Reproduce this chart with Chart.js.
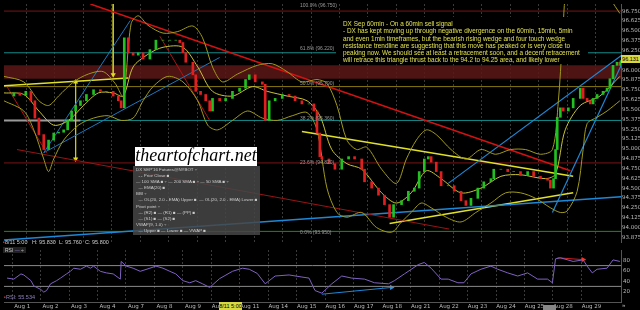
<!DOCTYPE html>
<html>
<head>
<meta charset="utf-8">
<script src="https://cdn.jsdelivr.net/npm/chart.js@4.4.1/dist/chart.umd.min.js"></script>
<style>
html, body { margin:0; padding:0; background:#000; width:640px; height:310px; overflow:hidden; }
#wrap { position:relative; width:640px; height:310px; font-family:"Liberation Sans", sans-serif; }
#main { position:absolute; left:0; top:0; }
#rsi { position:absolute; left:0; top:246px; }
.t { position:absolute; white-space:nowrap; }
.fib { position:absolute; white-space:nowrap; font-size:5px; color:#999; }
#note { position:absolute; left:336px; top:17px; width:252px; height:47px; background:#000; border-radius:6px;
  color:#e0e050; font-size:6.4px; line-height:7.3px; padding:3px 0 0 7px; box-sizing:border-box; white-space:nowrap; }
#wm { position:absolute; left:135px; top:147px; width:122px; height:19px; background:#fff;
  font-family:"Liberation Serif", serif; font-style:italic; font-size:18px; line-height:17px; color:#000; text-align:center; }
#leg { position:absolute; left:133px; top:166px; width:127px; height:69px; background:rgba(70,70,70,0.85);
  color:#ccc; font-size:4.4px; line-height:6.1px; padding:1px 0 0 3px; box-sizing:border-box; white-space:nowrap; overflow:hidden; }
</style>
</head>
<body>
<div id="wrap">
  <canvas id="main" width="640" height="246" style="width:640px;height:246px"></canvas>
  <canvas id="rsi" width="640" height="64" style="width:640px;height:64px"></canvas>

  <div class="fib" style="left:300px;top:2px">100.0% (96.750)</div>
  <div class="fib" style="left:300px;top:45px">61.8% (96.220)</div>
  <div class="fib" style="left:300px;top:80px">50.0% (95.790)</div>
  <div class="fib" style="left:300px;top:115px">38.2% (95.360)</div>
  <div class="fib" style="left:300px;top:159px">23.6% (94.820)</div>
  <div class="fib" style="left:300px;top:229px">0.0% (93.950)</div>

  <div id="note">DX Sep 60min - On a 60min sell signal<br>
- DX has kept moving up through negative divergence on the 60min, 15min, 5min<br>
and even 1min timeframes, but the bearish rising wedge and four touch wedge<br>
resistance trendline are suggesting that this move has peaked or is very close to<br>
peaking now. We should see at least a retracement soon, and a decent retracement<br>
will retrace this triangle thrust back to the 94.2 to 94.25 area, and likely lower</div>

  <div id="wm">theartofchart.net</div>

  <div id="leg">DX SEP'16 Futures@NYBOT ÷<br>
&nbsp;&nbsp;- - Prior Close ■<br>
— 100 SMA ■ ÷ — 200 SMA ■ ÷ — 50 SMA ■ ÷<br>
&nbsp;&nbsp;— EMA(20) ■<br>
BBI ÷<br>
&nbsp;&nbsp;— OL(20, 2.0 - EMA) Upper ■ &nbsp;— OL(20, 2.0 - EMA) Lower ■<br>
Pivot point ÷<br>
&nbsp;&nbsp;— (R2) ■ — (R1) ■ — (PP) ■<br>
&nbsp;&nbsp;— (S1) ■ — (S2) ■<br>
VWAP(9, 1.0) ÷<br>
&nbsp;&nbsp;— Upper ■ — Lower ■ — VWAP ■</div>

  <div class="t" style="left:3px;top:239px;font-size:5.5px;color:#ccc"><span style="color:#c03030">▪</span>8/11 5:00 &nbsp;&nbsp;H: 95.830 &nbsp;L: 95.760 &nbsp;C: 95.800</div>
  <div class="t" style="left:3px;top:247px;font-size:5px;color:#ccc;background:#222;padding:0 2px">RSI <span style="color:#8a70c8">—</span> ÷</div>
  <div class="t" style="left:4px;top:294px;font-size:5.5px;color:#9080c0"><span style="color:#c03030">▪</span>RSI: 55.534</div>
  <div class="t" style="left:621px;top:55px;width:19px;height:8px;background:#d8d840;color:#000;font-size:5.5px;line-height:8px;text-align:center">96.131</div>
  <div class="t" style="left:219px;top:302px;width:23px;height:8px;background:#d8d840;color:#000;font-size:5.5px;line-height:8px;text-align:center">8/11 5:00</div>
  <div class="t" style="left:543px;top:305px;width:13px;height:5px;background:#888"></div>
  <div class="t" style="left:622px;top:302px;font-size:6px;color:#bbb">»</div>
</div>

<script>
// day index 0 = Aug 1 ... 20 = Aug 29 (trading days)
const dayLabels = ['Aug 1','Aug 2','Aug 3','Aug 4','Aug 7','Aug 8','Aug 9','Aug 10','Aug 11','Aug 14',
  'Aug 15','Aug 16','Aug 17','Aug 18','Aug 21','Aug 22','Aug 23','Aug 24','Aug 25','Aug 28','Aug 29'];
const dayTicks = dayLabels.map((d, i) => i);
const priceTicks = [93.875, 94.0, 94.125, 94.25, 94.375, 94.5, 94.625, 94.75, 94.875, 95.0, 95.125, 95.25,
  95.375, 95.5, 95.625, 95.75, 95.875, 96.0, 96.125, 96.25, 96.375, 96.5, 96.625, 96.75];
const rsiTicks = [20, 40, 60, 80];

// [day, close]
const priceClose = [
  [-0.18,95.67],[0.06,95.71],[0.27,95.68],[0.48,95.73],[0.66,95.61],[0.80,95.39],[0.94,95.18],[1.11,94.99],
  [1.28,95.11],[1.46,95.20],[1.63,95.21],[1.81,95.24],[1.95,95.36],[2.09,95.48],[2.23,95.55],[2.40,95.61],
  [2.61,95.69],[2.86,95.75],[3.10,95.73],[3.31,95.73],[3.55,95.67],[3.73,95.61],[3.83,95.52],[3.94,96.41],
  [4.08,96.22],[4.25,96.19],[4.43,96.22],[4.60,96.14],[4.84,96.26],[5.05,96.38],[5.30,96.38],[5.54,96.38],
  [5.75,96.38],[5.89,96.35],[6.00,96.22],[6.10,96.10],[6.35,95.94],[6.45,95.73],[6.62,95.69],[6.80,95.61],
  [6.94,95.48],[7.04,95.64],[7.29,95.61],[7.50,95.64],[7.74,95.73],[7.99,95.77],[8.20,95.88],[8.33,95.94],
  [8.54,95.85],[8.79,95.82],[8.89,95.36],[9.03,95.61],[9.24,95.64],[9.49,95.69],[9.73,95.67],[9.94,95.61],
  [10.18,95.57],[10.43,95.57],[10.60,95.48],[10.71,95.20],[10.81,94.90],[10.88,94.87],[11.13,94.81],[11.34,94.74],
  [11.58,94.87],[11.82,94.90],[12.03,94.87],[12.28,94.74],[12.38,94.58],[12.63,94.50],[12.87,94.41],[13.08,94.29],
  [13.26,94.13],[13.40,94.29],[13.68,94.34],[13.92,94.46],[14.13,94.50],[14.30,94.71],[14.48,94.87],[14.62,94.90],
  [14.72,94.83],[14.90,94.71],[15.07,94.53],[15.32,94.53],[15.53,94.46],[15.77,94.34],[15.94,94.28],[16.12,94.37],
  [16.36,94.50],[16.57,94.58],[16.82,94.62],[16.92,94.74],[17.17,94.74],[17.41,94.71],[17.62,94.71],[17.86,94.66],
  [18.11,94.71],[18.32,94.65],[18.56,94.62],[18.81,94.60],[18.91,94.50],[19.02,94.62],[19.09,94.99],[19.15,95.40],
  [19.26,95.52],[19.36,95.48],[19.54,95.52],[19.71,95.64],[19.96,95.77],[20.06,95.64],[20.20,95.61],[20.31,95.57],
  [20.41,95.64],[20.55,95.69],[20.76,95.73],[20.90,95.77],[21.00,95.89],[21.11,96.06],[21.25,96.10],[21.35,96.06],
  [21.39,96.12]
];

const bbUpper = [
  [-0.29,95.92],[0.41,95.85],[0.94,95.61],[1.28,95.55],[1.63,95.67],[2.16,95.85],[2.68,95.95],[3.20,95.98],
  [3.62,95.83],[3.90,95.67],[4.18,96.59],[4.43,96.69],[4.77,96.57],[5.30,96.47],[5.82,96.49],[6.35,96.56],
  [6.69,96.41],[7.04,96.04],[7.39,95.85],[7.92,95.95],[8.61,96.06],[9.14,96.08],[9.66,95.98],[10.18,95.85],
  [10.71,95.88],[11.06,95.83],[11.41,95.55],[11.76,95.11],[12.10,94.99],[12.46,95.02],[12.98,94.74],[13.50,94.56],
  [13.85,94.87],[14.20,95.11],[14.55,95.24],[14.90,95.18],[15.42,94.99],[15.94,94.87],[16.47,94.99],[16.99,94.93],
  [17.51,94.99],[18.04,94.99],[18.56,94.93],[18.98,94.99],[19.19,95.61],[19.33,96.35],[19.50,97.09],[19.96,97.33],
  [20.65,97.09],[21.35,96.72]
];
const bbLower = [
  [-0.29,95.61],[0.41,95.48],[0.76,95.24],[1.11,94.87],[1.28,94.71],[1.46,94.87],[1.81,95.11],[2.33,95.30],
  [2.86,95.39],[3.38,95.42],[3.83,95.36],[4.25,95.39],[4.60,95.61],[4.95,95.79],[5.47,95.92],[6.00,95.85],
  [6.52,95.61],[6.87,95.30],[7.22,95.24],[7.74,95.36],[8.27,95.48],[8.79,95.39],[9.31,95.36],[9.84,95.42],
  [10.36,95.46],[10.71,95.24],[11.06,94.50],[11.41,94.19],[11.76,94.13],[12.28,94.19],[12.80,94.00],[13.33,93.94],
  [13.68,94.07],[14.02,94.19],[14.37,94.31],[14.72,94.25],[15.25,94.13],[15.77,94.07],[16.29,94.19],[16.82,94.31],
  [17.34,94.44],[17.86,94.44],[18.39,94.37],[18.91,94.25],[19.26,94.19],[19.50,94.21],[19.85,94.46],[20.06,94.99],
  [20.20,95.32],[20.55,95.40],[20.90,95.48],[21.35,95.61]
];
const ema20 = [
  [-0.29,95.71],[0.41,95.69],[0.94,95.48],[1.46,95.30],[1.98,95.36],[2.51,95.55],[3.03,95.71],[3.55,95.71],
  [3.90,95.67],[4.25,96.04],[4.77,96.20],[5.30,96.29],[6.00,96.29],[6.52,96.04],[7.04,95.73],[7.74,95.67],
  [8.44,95.79],[8.96,95.73],[9.66,95.67],[10.36,95.61],[10.81,95.42],[11.23,94.99],[11.76,94.81],[12.28,94.74],
  [12.98,94.44],[13.50,94.31],[14.02,94.44],[14.55,94.72],[15.07,94.62],[15.77,94.44],[16.47,94.50],[17.17,94.65],
  [17.86,94.67],[18.74,94.62],[19.09,94.68],[19.43,95.24],[19.96,95.55],[20.65,95.67],[21.35,95.92]
];

// horizontal levels [value, colour]
const levels = [[96.75,'#7a1414'],[96.22,'#148a8a'],[95.79,'#8a7812'],[95.36,'#148a8a'],[94.82,'#7a1414'],[93.95,'#1c8c1c']];
const resistanceZone = [95.89, 96.06];

// trend lines [[day, price], [day, price]]
const redTrend = [[2.75,96.84],[19.61,94.72]];
const redLow = [[0.17,94.99],[15.35,93.98]];
const redLeft = [[-0.18,95.79],[1.21,94.95]];
const redMid = [[5.19,96.43],[6.94,95.36]];
const blueBase = [[-0.29,93.84],[21.39,94.39]];
const blueWedgeTop = [[15.32,94.56],[21.42,96.19]];
const blueWedgeLow = [[18.98,94.19],[21.42,96.08]];
const blueLeftA = [[1.11,94.95],[4.15,96.63]];
const blueLeftB = [[1.11,94.95],[7.29,96.16]];
const yellowLeft = [[-0.29,95.80],[4.08,95.90]];
const yellowTriTop = [[10.18,95.22],[19.71,94.65]];
const yellowTriLow = [[13.26,94.05],[19.71,94.44]];
const markerA = [[3.55,96.84],[3.55,95.94]];
const markerB = [[2.23,95.85],[2.23,94.87]];

// [day, rsi]
const rsiLine = [
  [-0.18,46],[0.06,44],[0.31,54],[0.41,52],[0.66,41],[0.76,31],[1.01,24],[1.11,19],[1.21,22],[1.35,35],
  [1.56,41],[1.70,46],[1.91,54],[2.05,59],[2.16,65],[2.40,63],[2.61,69],[2.75,65],[2.86,69],[3.10,59],
  [3.31,56],[3.55,54],[3.80,44],[3.83,78],[4.01,69],[4.25,65],[4.50,59],[4.84,65],[5.05,69],[5.30,65],
  [5.54,59],[5.75,54],[6.00,41],[6.24,37],[6.45,41],[6.69,35],[6.94,28],[7.29,45],[7.74,59],[8.09,65],
  [8.33,63],[8.61,55],[8.89,35],[9.24,50],[9.73,52],[10.18,48],[10.43,46],[10.64,22],[10.88,17],[11.23,35],
  [11.58,50],[11.93,46],[12.38,44],[12.73,37],[13.22,35],[13.43,41],[13.78,54],[14.27,72],[14.48,76],[14.72,65],
  [15.07,44],[15.32,44],[15.66,37],[15.87,37],[16.12,54],[16.47,63],[16.82,69],[17.06,63],[17.41,56],[17.76,50],
  [18.11,56],[18.46,44],[18.81,44],[18.98,37],[19.09,83],[19.26,85],[19.71,78],[20.06,81],[20.20,69],[20.38,56],
  [20.55,63],[20.90,65],[21.11,81],[21.35,78]
];
const rsiBands = [30, 70];
const rsiBlueDiv = [[10.88,15],[13.33,28]];
const rsiRedDiv = [[19.16,85],[20.06,81.5]];

const xMin = -0.286, xMax = 21.39;
const pts = arr => arr.map(p => ({x: p[0], y: p[1]}));

function seg(data, color, width, extra) {
  return Object.assign({type:'line', data: pts(data), borderColor: color, borderWidth: width,
    pointRadius: 0, fill: false, tension: 0, order: 2}, extra || {});
}

const candles = priceClose.slice(1).map((p, i) => ({x: p[0], y: [priceClose[i][1], p[1]]}));
const candleColors = candles.map(c => c.y[1] >= c.y[0] ? '#22c022' : '#e02020');

const mainSets = [
  {type:'bar', data: candles, backgroundColor: candleColors, barThickness: 2, order: 1},
  seg(bbUpper, '#a09a1c', 1, {tension: 0.3}),
  seg(bbLower, '#a09a1c', 1, {tension: 0.3}),
  seg(ema20, '#c8c236', 1, {tension: 0.3}),
  seg([[xMin, resistanceZone[1]], [xMax, resistanceZone[1]]], 'rgba(0,0,0,0)', 0,
      {fill: {value: resistanceZone[0]}, backgroundColor: 'rgba(92,22,22,0.85)', order: 10}),
  seg([[xMin, 95.36], [2.40, 95.36]], '#999', 2, {order: 3})
];
levels.forEach(l => mainSets.push(seg([[xMin, l[0]], [xMax, l[0]]], l[1], 1, {order: 5})));
mainSets.push(
  seg(redTrend, '#d21212', 1.5),
  seg(redLow, '#9a1414', 1),
  seg(redLeft, '#b01414', 1),
  seg(redMid, '#b01414', 1),
  seg(blueBase, '#1e88d8', 1.5),
  seg(blueWedgeTop, '#1e88d8', 1.2),
  seg(blueWedgeLow, '#1e88d8', 1.2),
  seg(blueLeftA, '#1e78c0', 1),
  seg(blueLeftB, '#1e78c0', 1),
  seg(yellowLeft, '#e0e028', 1.5),
  seg(yellowTriTop, '#e0e028', 1.5),
  seg(yellowTriLow, '#e0e028', 1.5),
  seg(markerA, '#c8c820', 1, {pointRadius: [0, 3], pointStyle: 'triangle', pointRotation: 180,
      pointBackgroundColor: '#e0e020', pointBorderWidth: 0}),
  seg(markerB, '#c8c820', 1, {pointRadius: [3, 3], pointStyle: 'triangle', pointRotation: [0, 180],
      pointBackgroundColor: '#e0e020', pointBorderWidth: 0})
);

function noPad(s) { s.paddingTop = 0; s.paddingBottom = 0; s.paddingLeft = 0; s.paddingRight = 0; }

new Chart(document.getElementById('main'), {
  type: 'bar',
  data: { datasets: mainSets },
  options: {
    responsive: false, animation: false, devicePixelRatio: 1,
    layout: { padding: 0 },
    plugins: { legend: { display: false }, tooltip: { enabled: false } },
    scales: {
      x: { type: 'linear', min: xMin, max: xMax, offset: false,
        afterBuildTicks: s => { s.ticks = dayTicks.map(v => ({value: v})); },
        ticks: { display: false },
        grid: { color: '#3a3a3a', drawTicks: false },
        border: { display: false, dash: [2, 2] },
        afterFit: s => { s.height = 0; noPad(s); } },
      y: { position: 'right', min: 93.815, max: 96.84,
        afterBuildTicks: s => { s.ticks = priceTicks.map(v => ({value: v})); },
        ticks: { color: '#bbb', font: { size: 5.5, family: 'DejaVu Sans' }, padding: 1, autoSkip: false,
          callback: v => v.toFixed(3) },
        grid: { display: false, drawTicks: false },
        border: { color: '#555' },
        afterFit: s => { s.width = 19; noPad(s); } }
    }
  }
});

const rsiSets = [
  seg(rsiLine, '#7e62c0', 1),
  seg([[xMin, rsiBands[0]], [xMax, rsiBands[0]]], '#8a8a8a', 1),
  seg([[xMin, rsiBands[1]], [xMax, rsiBands[1]]], '#8a8a8a', 1),
  seg(rsiBlueDiv, '#1e88d8', 1, {pointRadius: [0, 3], pointStyle: 'triangle', pointRotation: 90,
      pointBackgroundColor: '#1e98f0', pointBorderWidth: 0}),
  seg(rsiRedDiv, '#d02020', 1, {pointRadius: [0, 3], pointStyle: 'triangle', pointRotation: 90,
      pointBackgroundColor: '#ff3020', pointBorderWidth: 0})
];

new Chart(document.getElementById('rsi'), {
  type: 'line',
  data: { datasets: rsiSets },
  options: {
    responsive: false, animation: false, devicePixelRatio: 1,
    layout: { padding: { top: 2 } },
    plugins: { legend: { display: false }, tooltip: { enabled: false } },
    scales: {
      x: { type: 'linear', min: xMin, max: xMax,
        afterBuildTicks: s => { s.ticks = dayTicks.map(v => ({value: v})); },
        ticks: { color: '#bbb', font: { size: 5.5, family: 'DejaVu Sans' }, padding: 1, labelOffset: 10,
          maxRotation: 0, autoSkip: false, callback: v => dayLabels[v] },
        grid: { color: '#3a3a3a', drawTicks: false },
        border: { color: '#555', dash: [2, 2] },
        afterFit: s => { s.height = 8; noPad(s); } },
      y: { position: 'right', min: 0, max: 100,
        afterBuildTicks: s => { s.ticks = rsiTicks.map(v => ({value: v})); },
        ticks: { color: '#bbb', font: { size: 5.5, family: 'DejaVu Sans' }, padding: 2, autoSkip: false },
        grid: { display: false, drawTicks: false },
        border: { color: '#555' },
        afterFit: s => { s.width = 19; noPad(s); } }
    }
  }
});
</script>
</body>
</html>
